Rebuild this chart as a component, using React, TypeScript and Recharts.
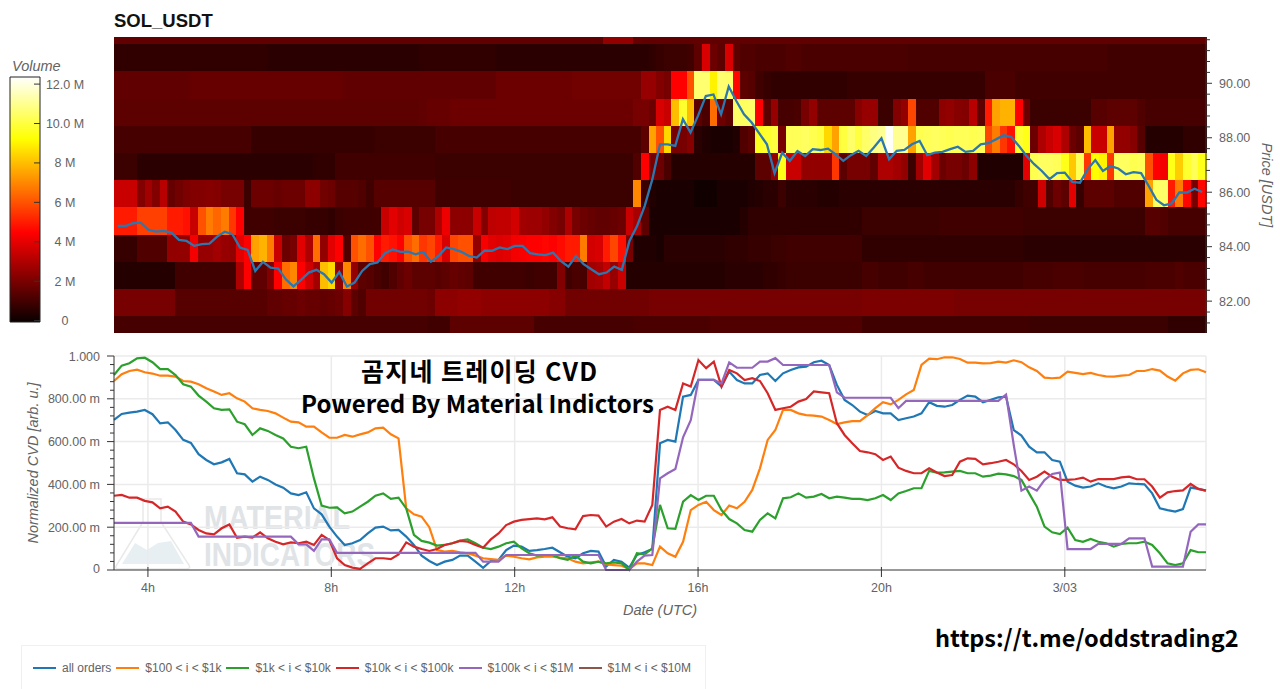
import React from "react";
import { ComposedChart, BarChart, Bar, Line, Cell, XAxis, YAxis, CartesianGrid, Legend } from "recharts";

// ---- Heatmap (volume in millions per 10-minute column, per 1 USD price bin) ----
const p81 = [
  1.1,1.1,1.1,1.1,1.1,1.1,1.1,1.1,1.1,1.1, 1.1,1.1,1.1,1.1,1.1,1.1,1.1,1.1,1.1,1.1,
  1.1,1.1,1.1,1.1,1.1,1.1,1.1,1.1,1.1,1.1, 1.1,1.1,1.1,1.1,1.1,1.1,1.1,1.1,1.1,1.1,
  1.1,1.0,1.0,1.0,1.5,1.5,1.5,1.5,1.5,1.5, 1.5,1.5,1.5,1.5,1.5,1.1,1.1,1.1,1.1,1.1,
  1.1,1.1,1.1,1.1,1.1,1.1,1.1,1.1,1.2,1.2, 1.2,1.2,1.2,1.2,1.2,1.2,1.2,1.2,1.3,1.3,
  1.3,1.3,1.3,1.3,1.3,1.3,1.3,1.3,1.3,1.3, 1.3,1.3,1.3,1.3,1.3,1.3,1.3,1.3,1.0,1.0,
  1.0,1.0,1.0,1.0,1.0,1.0,1.0,1.0,1.0,1.0, 1.0,1.0,1.0,1.0,1.0,1.0,1.0,1.0,1.0,1.0,
  0.9,0.9,0.9,0.9,0.9,0.9,0.9,0.9,0.9,0.9, 0.9,0.9,0.9,0.9,0.9,0.9,0.9,0.9,0.7,0.7,
  0.7,0.7,0.7,
];
const p82 = [
  2.0,2.0,2.0,2.0,2.0,2.0,2.0,2.0,1.4,1.4, 1.4,1.4,1.4,1.4,1.4,1.4,1.4,1.4,1.4,1.4,
  1.6,1.6,1.7,1.7,1.8,1.7,1.7,1.6,1.7,1.8, 2.3,1.5,1.3,1.9,1.9,1.9,1.9,1.9,1.9,1.9,
  1.9,1.8,2.4,2.4,2.4,2.5,2.5,2.5,2.4,2.4, 2.4,2.4,2.4,2.4,2.4,2.4,2.4,2.3,2.3,1.9,
  1.9,1.9,1.9,1.9,1.9,1.9,1.9,1.9,1.9,1.9, 2.0,2.0,2.0,2.0,2.0,2.0,2.0,2.0,2.0,2.0,
  2.0,2.0,2.0,2.0,2.0,2.0,2.0,2.0,2.0,2.0, 2.0,2.0,2.0,2.0,2.0,2.0,2.0,2.0,2.1,2.1,
  2.1,2.1,2.1,2.1,2.1,2.1,2.1,2.1,2.1,2.1, 2.0,2.0,2.0,2.0,2.0,2.0,2.0,2.0,2.0,2.0,
  2.0,2.0,2.0,2.0,2.0,2.0,2.0,2.0,2.0,2.0, 2.0,2.0,2.0,2.0,2.0,2.0,2.0,2.0,2.0,2.0,
  2.0,2.0,2.0,
];
const p83 = [
  0.5,0.5,0.5,0.5,0.5,0.5,0.5,0.5,1.0,1.0, 1.0,1.0,1.0,1.0,1.0,1.0,3.0,4.5,1.6,1.6,
  2.2,4.5,6.5,7.0,4.5,3.6,2.8,8.0,8.5,2.5, 7.0,2.5,1.5,1.4,1.2,1.0,1.3,1.6,1.8,1.5,
  1.5,1.5,1.4,1.5,1.7,1.6,1.5,1.0,1.0,1.0, 1.0,1.0,1.0,1.0,0.9,1.0,1.0,1.0,2.2,1.0,
  1.2,1.1,2.8,2.9,3.4,2.6,3.5,0.5,0.5,0.5, 0.5,0.5,0.5,0.5,0.5,0.5,0.5,0.5,0.5,0.5,
  0.6,0.6,0.6,0.6,0.6,0.7,0.7,0.8,0.9,0.9, 0.9,0.9,0.9,0.9,0.9,0.9,0.9,0.9,1.1,1.1,
  1.0,1.0,1.0,1.0,1.1,1.1,1.0,1.0,1.0,1.0, 1.0,1.0,1.0,1.0,1.0,1.0,1.0,1.0,1.0,1.1,
  1.1,1.1,1.1,1.2,1.2,1.2,1.2,1.1,1.1,1.1, 1.1,1.1,1.1,1.1,1.1,1.2,1.2,1.2,1.2,1.3,
  1.2,1.2,1.2,
];
const p84 = [
  0.8,0.8,0.8,1.3,1.3,1.3,1.3,2.5,2.5,2.5, 4.3,2.6,2.6,2.8,2.6,2.5,4.0,4.5,7.5,7.8,
  6.8,3.5,1.8,2.0,4.0,3.0,6.5,2.5,4.0,4.5, 1.3,6.0,6.5,6.0,4.5,5.0,4.8,4.5,6.0,6.5,
  5.5,5.8,5.0,3.8,5.8,6.0,6.0,2.5,4.4,4.0, 3.9,4.0,4.3,4.4,4.5,4.5,4.6,4.5,4.7,5.0,
  5.0,6.8,3.7,3.8,5.0,5.8,4.8,2.0,0.4,0.4, 0.4,0.3,0.6,0.6,0.6,0.6,0.6,0.6,0.6,0.6,
  0.7,0.7,0.7,0.8,0.8,0.8,0.9,0.9,1.0,1.0, 1.0,1.0,1.0,1.0,1.0,1.0,1.0,1.0,0.7,0.7,
  0.7,0.7,0.7,0.7,0.7,0.7,0.7,0.7,0.7,0.7, 0.7,0.7,0.7,0.7,0.7,0.7,0.7,0.7,0.7,0.6,
  0.6,0.6,0.6,0.6,0.6,0.6,0.6,0.6,0.6,0.6, 0.6,0.6,0.6,0.6,0.6,0.6,0.6,0.6,0.6,0.6,
  0.6,0.6,0.6,
];
const p85 = [
  5.0,5.0,5.0,5.7,5.7,5.7,5.7,5.0,5.0,4.8, 3.5,6.0,6.8,6.4,6.8,5.5,4.5,1.0,1.0,1.0,
  1.0,0.9,0.9,0.9,0.9,0.8,0.8,0.8,0.7,0.9, 1.0,1.0,1.0,1.0,1.0,3.5,4.0,3.6,3.8,1.5,
  2.0,2.0,3.0,4.2,2.4,2.4,2.4,3.5,2.2,3.3, 3.4,3.4,3.7,2.8,2.7,2.7,2.5,2.2,2.0,3.0,
  2.0,1.8,1.7,1.6,1.6,1.7,1.8,3.5,2.9,1.5, 0.3,0.3,0.3,0.3,0.3,0.3,0.3,0.3,0.3,0.3,
  0.3,0.3,0.5,0.7,0.7,0.7,0.7,0.7,0.7,0.7, 0.7,0.7,0.7,0.7,0.7,0.7,0.7,0.7,0.9,0.9,
  0.9,0.9,0.9,0.9,0.9,0.9,0.9,0.9,1.0,1.0, 1.0,1.0,1.0,1.0,1.0,1.0,1.0,1.0,1.0,0.9,
  0.9,0.9,0.9,0.9,0.9,0.9,0.9,0.9,0.9,0.9, 0.9,0.9,0.9,0.9,0.9,1.4,1.4,1.3,1.1,1.1,
  1.1,1.1,1.1,
];
const p86 = [
  3.5,3.5,3.5,2.2,2.8,2.2,3.2,1.7,1.9,2.1, 2.2,2.2,2.3,2.2,2.0,2.0,2.0,0.9,1.8,1.8,
  1.8,1.7,1.8,1.8,1.8,2.4,2.4,1.9,1.8,1.4, 1.4,1.4,1.3,1.0,1.4,1.4,1.4,1.4,1.4,1.4,
  1.4,1.4,1.0,1.0,1.0,1.0,1.0,1.0,1.0,1.0, 1.0,1.0,0.9,0.9,0.9,0.9,0.9,0.9,0.9,0.9,
  0.9,0.9,0.9,0.9,0.9,0.9,0.9,0.9,7.0,0.9, 0.4,0.3,0.3,0.3,0.3,0.3,0.1,0.1,0.1,0.3,
  0.3,0.3,0.3,0.4,0.5,0.6,0.6,0.9,0.6,0.6, 0.6,0.6,0.5,0.5,0.5,0.6,0.6,0.6,0.6,0.6,
  0.6,0.6,0.6,0.6,0.6,0.6,0.6,0.6,0.6,0.6, 0.6,0.6,0.6,0.6,0.6,0.6,0.6,0.6,0.8,1.0,
  1.0,3.6,1.3,1.8,1.5,4.0,0.8,1.5,1.5,1.5, 1.5,1.3,1.3,1.3,1.3,7.5,10.4,10.5,5.0,6.8,
  4.6,2.0,4.6,
];
const p87 = [
  0.9,0.9,0.9,0.6,0.6,0.6,0.6,0.6,0.6,0.6, 0.6,0.6,0.6,0.6,0.6,0.6,0.6,0.6,0.6,0.6,
  0.6,0.6,0.6,0.6,0.6,0.6,0.7,0.7,0.7,1.0, 1.0,1.0,1.0,1.0,1.0,1.0,1.0,1.0,1.0,1.0,
  1.0,1.0,0.9,0.9,0.9,0.9,0.9,0.9,0.9,0.9, 0.9,0.9,0.9,0.9,0.9,0.9,0.9,0.9,0.9,0.9,
  0.9,0.9,0.9,0.9,0.9,0.9,0.9,0.9,1.3,4.5, 2.0,1.8,1.2,0.5,0.5,0.5,0.5,0.5,0.5,0.5,
  0.5,0.5,0.5,0.5,1.5,1.5,2.5,9.5,3.5,3.5, 2.5,2.5,2.5,2.5,5.5,1.5,2.0,2.0,2.0,1.6,
  3.0,3.0,2.8,2.5,0.9,2.8,4.0,2.8,1.8,2.0, 2.0,1.8,2.4,0.4,0.4,0.4,0.4,0.4,0.4,4.0,
  10.2,10.4,10.4,10.3,9.5,8.2,10.3,5.5,9.2,9.0, 5.5,10.4,10.4,10.2,10.3,6.0,4.5,4.3,9.5,8.3,
  9.8,10.3,9.5,
];
const p88 = [
  1.1,1.1,1.1,1.1,1.1,1.1,1.1,1.1,1.1,1.1, 1.1,1.1,1.1,1.1,1.1,1.1,1.1,1.1,0.8,0.8,
  0.8,0.8,0.8,0.8,0.8,0.8,0.8,0.8,0.8,0.8, 0.8,0.8,0.8,0.8,0.9,0.9,0.9,0.9,0.9,0.9,
  0.9,0.9,1.1,1.1,1.1,1.1,1.1,1.1,1.1,1.1, 1.1,1.1,1.1,1.1,1.1,1.1,1.1,1.1,1.1,1.1,
  1.1,1.1,1.1,1.1,1.1,1.1,1.1,1.1,1.1,1.5, 7.5,6.0,8.5,2.0,2.0,2.3,0.6,0.4,0.3,0.3,
  0.3,0.4,1.3,1.5,9.6,9.8,10.0,2.0,10.3,10.3, 10.4,10.2,10.0,8.5,7.5,10.0,10.5,10.0,10.5,10.8,
  11.0,12.3,11.0,11.0,7.5,10.2,10.3,10.4,10.3,10.2, 10.3,10.3,10.2,10.3,5.8,6.8,5.5,4.8,9.8,9.5,
  1.8,3.0,3.5,3.8,3.0,1.8,1.5,8.0,3.5,3.5, 7.5,2.5,2.5,2.3,1.4,0.5,0.5,0.5,0.5,0.5,
  0.7,0.7,0.7,
];
const p89 = [
  1.5,1.5,1.5,1.5,1.5,1.5,1.5,1.5,1.5,1.5, 1.5,1.5,1.5,1.5,1.5,1.5,1.5,1.5,1.5,1.5,
  1.5,1.5,1.5,1.5,1.5,1.5,1.5,1.5,1.5,1.5, 1.5,1.5,1.5,1.5,1.5,1.5,1.5,1.5,1.5,1.5,
  1.6,1.7,1.7,1.7,1.8,1.8,1.8,1.8,1.8,1.8, 1.8,1.8,1.8,1.8,1.8,1.8,1.8,1.8,1.8,1.8,
  1.8,1.8,1.8,1.8,1.8,1.8,1.8,1.8,2.0,2.0, 1.8,3.8,3.5,8.0,9.8,8.0,1.5,1.2,6.5,1.8,
  1.5,10.5,10.4,10.5,4.5,1.5,2.6,1.1,1.1,1.2, 2.0,2.5,1.5,1.5,1.5,1.5,1.5,2.3,2.6,2.6,
  0.9,0.9,2.2,2.5,5.8,1.3,1.3,1.3,2.4,2.5, 2.3,2.2,3.2,1.5,5.0,7.5,7.8,7.8,4.5,1.8,
  0.9,0.9,0.9,0.9,0.9,0.9,0.9,0.9,1.4,1.4, 1.5,1.5,1.5,1.5,1.3,1.1,1.1,1.1,1.1,1.1,
  1.1,1.1,1.1,
];
const p90 = [
  1.6,1.6,1.6,1.6,1.6,1.6,1.6,1.6,1.6,1.6, 1.7,1.7,1.7,1.7,1.7,1.7,1.7,1.7,1.7,1.7,
  1.7,1.7,1.7,1.7,1.7,1.7,1.7,1.7,1.7,1.7, 1.6,1.6,1.6,1.6,1.6,1.6,1.6,1.6,1.6,1.6,
  1.6,1.6,1.6,1.6,1.6,1.6,1.6,1.6,1.6,1.6, 1.8,1.8,1.8,1.8,1.8,1.8,1.8,1.8,1.8,1.8,
  1.9,1.9,1.9,1.9,1.9,1.9,1.9,1.9,1.9,2.6, 2.6,2.2,2.0,4.5,4.5,6.0,10.6,10.6,9.0,10.6,
  10.5,4.6,1.5,1.4,1.0,0.8,0.7,0.7,0.7,0.7, 0.7,0.7,0.7,0.7,0.7,0.7,0.8,0.8,0.8,0.8,
  0.8,0.8,0.8,0.8,0.8,0.8,0.8,0.8,0.8,0.8, 0.8,0.8,0.8,0.8,1.2,1.2,1.2,1.2,1.0,1.0,
  1.0,1.0,1.0,1.0,1.0,1.0,1.0,1.0,1.0,1.0, 1.0,1.0,1.0,1.0,1.0,1.0,1.0,1.0,1.0,1.0,
  1.0,1.0,1.0,
];
const p91 = [
  0.7,0.7,0.7,0.7,0.7,0.7,0.7,0.7,0.7,0.7, 0.7,0.7,0.7,0.7,0.7,0.7,0.7,0.7,0.7,0.7,
  0.6,0.6,0.6,0.6,0.6,0.6,0.6,0.6,0.6,0.6, 0.6,0.6,0.6,0.6,0.6,0.6,0.6,0.6,0.6,0.6,
  0.7,0.7,0.7,0.7,0.7,0.7,0.7,0.7,0.7,0.7, 0.6,0.6,0.6,0.6,0.6,0.6,0.6,0.6,0.6,0.6,
  0.6,0.6,0.6,0.6,0.6,0.6,0.6,0.6,0.6,0.6, 0.7,0.8,0.9,0.9,0.9,1.0,1.5,3.8,1.8,1.5,
  3.8,1.5,1.3,1.3,1.2,1.2,1.2,1.2,1.3,1.3, 1.2,1.2,1.2,1.2,1.2,1.2,1.2,1.2,1.2,1.2,
  1.2,1.2,1.2,1.2,1.1,1.1,1.1,1.1,1.1,1.1, 1.1,1.1,1.1,1.1,1.1,1.1,1.1,1.1,1.1,1.1,
  1.1,1.1,1.1,1.1,1.1,1.1,1.1,1.1,1.1,1.1, 1.0,1.0,1.0,1.0,1.0,1.0,1.0,1.0,1.0,1.0,
  1.0,1.0,1.0,
];
const p92 = [
  1.6,1.6,1.6,1.6,1.6,1.6,1.6,1.6,1.6,1.6, 1.6,1.6,1.6,1.6,1.6,1.6,1.6,1.6,1.6,1.6,
  1.6,1.6,1.6,1.6,1.6,1.6,1.6,1.6,1.6,1.6, 1.6,1.6,1.6,1.6,1.6,1.6,1.6,1.6,1.6,1.6,
  1.6,1.6,1.6,1.6,1.6,1.6,1.6,1.6,1.6,1.6, 1.6,1.6,1.6,1.6,1.6,1.6,1.6,1.6,1.6,1.6,
  1.6,1.6,1.6,1.6,2.5,2.5,2.5,2.5,1.7,1.6, 1.6,1.6,1.6,1.6,1.6,1.6,1.6,1.6,1.6,1.6,
  1.6,1.6,1.6,1.6,1.6,1.6,1.6,1.6,1.6,1.6, 1.6,1.6,1.6,1.6,1.6,1.6,1.6,1.6,1.6,1.6,
  1.6,1.6,1.6,1.6,1.6,1.6,1.6,1.6,1.6,1.6, 1.6,1.6,1.6,1.6,1.6,1.6,1.6,1.6,1.6,1.6,
  1.6,1.6,1.6,1.6,1.6,1.6,1.6,1.6,1.6,1.6, 1.6,1.6,1.6,1.6,1.6,1.6,1.6,1.6,1.6,1.6,
  1.6,1.6,1.6,
];
const heatRows = [p81, p82, p83, p84, p85, p86, p87, p88, p89, p90, p91, p92];
// Height of every price bin in the stack; the first reaches up from zero to its upper edge.
const binHeights = [81.44, 1, 1, 1, 1, 1, 1, 1, 1, 1, 1, 1];

const price = [
  84.76,84.76,84.86,84.88,84.62,84.55,84.58,84.52,84.25,84.21,
  84.03,84.09,84.11,84.37,84.55,84.46,83.97,83.88,83.11,83.44,
  83.23,83.20,82.80,82.54,82.78,83.05,83.15,82.99,82.68,83.07,
  82.54,82.68,83.11,83.36,83.42,83.76,83.90,83.81,83.82,83.72,
  83.81,83.45,83.66,83.97,83.91,83.81,83.66,83.60,83.85,83.85,
  83.97,83.91,84.03,84.03,83.76,83.72,83.69,83.78,83.48,83.27,
  83.66,83.36,83.17,82.99,83.05,83.27,83.15,84.21,84.76,85.50,
  86.48,87.76,87.76,87.70,88.68,88.19,88.82,89.53,89.59,88.86,
  89.88,89.35,88.86,88.56,88.16,87.76,86.70,87.45,87.15,87.51,
  87.33,87.58,87.55,87.60,87.39,87.15,87.36,87.52,87.33,87.64,
  87.98,87.21,87.52,87.55,87.76,87.88,87.36,87.45,87.48,87.58,
  87.67,87.48,87.52,87.76,87.80,87.94,88.09,88.03,87.70,87.33,
  87.03,86.78,86.48,86.70,86.72,86.38,86.35,86.84,87.18,86.78,
  86.96,86.87,86.66,86.74,86.70,86.23,85.72,85.52,85.59,85.99,
  85.99,86.13,86.01,
];

// ---- CVD series (milli-units), one sample per step along the time axis ----
const allOrders = [
  701,729,735,740,748,728,685,690,654,608, 594,541,514,494,503,519,452,447,413,436,
  421,400,385,358,350,363,288,260,203,156, 117,125,140,171,198,203,185,187,156,117,
  67,42,23,39,47,67,67,39,10,42, 47,93,114,109,89,93,98,104,83,62,
  55,78,89,86,16,47,39,11,70,83, 98,592,608,600,810,818,888,888,888,857,
  927,888,872,872,911,919,883,919,935,947, 950,971,978,958,865,795,771,740,724,743,
  732,732,701,709,717,732,784,767,763,771, 795,815,810,784,795,807,810,654,628,576,
  550,550,514,506,413,394,385,390,405,390, 382,390,405,402,400,358,288,280,273,285,
  385,379,371,
];
const tier100to1k = [
  883,915,930,936,924,918,908,908,904,883, 880,868,849,834,818,826,802,787,756,748,
  743,732,712,693,690,670,670,643,618,618, 631,623,634,643,662,665,634,615,288,260,
  249,200,93,86,89,83,78,67,55,51, 47,67,62,55,50,59,62,62,58,55,
  39,31,36,39,26,23,20,5,31,31, 23,109,78,62,132,280,304,319,280,257,
  301,288,319,374,475,608,654,748,748,732, 724,721,717,701,682,690,696,696,724,756,
  784,774,795,821,841,958,988,985,994,994, 986,969,969,966,967,974,969,980,971,947,
  930,899,896,899,927,921,915,921,911,905, 904,908,911,930,930,939,932,904,885,919,
  935,938,924,
];
const tier1kto10k = [
  911,955,966,989,992,971,939,939,911,868, 857,815,787,756,748,751,693,681,631,662,
  650,631,615,576,569,576,428,301,291,293, 265,273,296,319,347,358,332,338,288,164,
  136,128,114,117,125,137,143,125,104,98, 109,125,132,101,78,67,70,70,55,47,
  67,39,31,39,31,36,31,0,78,73, 101,304,195,192,319,350,327,347,347,280,
  238,218,187,179,234,265,241,335,340,358, 338,343,355,335,343,338,332,332,327,335,
  350,327,358,369,382,382,463,455,456,460, 463,452,452,436,441,450,447,439,421,358,
  296,203,176,168,198,140,132,145,132,125, 109,122,125,125,132,117,78,31,23,31,
  93,83,83,
];
const tier10kto100k = [
  347,351,338,338,323,316,288,296,273,226, 213,187,171,167,195,213,151,156,151,176,
  148,132,120,129,125,132,117,164,140,55, 23,11,5,31,55,55,51,73,129,109,
  98,89,98,117,125,136,132,117,104,143, 171,210,226,234,238,241,237,246,203,195,
  190,252,257,254,203,226,238,218,231,226, 304,748,763,748,872,857,981,943,974,857,
  935,919,888,896,883,826,748,756,763,787, 799,834,830,826,686,631,592,556,550,541,
  514,530,478,463,452,452,475,456,439,444, 506,522,519,494,499,506,514,494,463,421,
  436,460,436,421,421,424,432,413,425,425, 425,433,436,424,424,390,338,363,369,372,
  402,379,371,
];
const tier100kto1M = [
  220,220,220,220,220,220,220,220,220,220, 220,156,156,156,156,156,156,156,156,156,
  156,156,156,156,120,120,89,143,143,80, 80,80,80,80,80,80,80,80,80,80,
  80,80,80,80,80,80,80,80,39,39, 39,70,70,70,70,70,70,70,70,70,
  70,70,70,70,0,0,0,0,39,67, 70,428,452,472,620,700,888,888,888,872,
  970,945,945,945,974,974,990,958,958,958, 958,958,958,958,830,805,805,805,805,805,
  805,805,756,790,790,790,790,790,790,790, 790,790,790,790,790,790,820,584,371,390,
  371,420,449,455,98,98,98,98,122,122, 122,122,148,148,148,16,16,16,16,16,
  179,213,213,
];
const tier1Mto10M: number[] = [];

const seriesNames = ["all orders", "$100 < i < $1k", "$1k < i < $10k", "$10k < i < $100k", "$100k < i < $1M", "$1M < i < $10M"];
const seriesColors = ["#1f77b4", "#ff7f0e", "#2ca02c", "#d62728", "#9467bd", "#8c564b"];
const seriesValues = [allOrders, tier100to1k, tier1kto10k, tier10kto100k, tier100kto1M, tier1Mto10M];

// ---- Axes ----
const priceTicks = [81.2,81.6,82,82.4,82.8,83.2,83.6,84,84.4,84.8,85.2,85.6,86,86.4,86.8,87.2,87.6,88,88.4,88.8,89.2,89.6,90,90.4,90.8,91.2,91.6];
const priceLabels: Record<number, string> = { 82: "82.00", 84: "84.00", 86: "86.00", 88: "88.00", 90: "90.00" };
const cvdTicks = [0,40,80,120,160,200,240,280,320,360,400,440,480,520,560,600,640,680,720,760,800,840,880,920,960,1000];
const cvdLabels: Record<number, string> = { 0: "0", 200: "200.00 m", 400: "400.00 m", 600: "600.00 m", 800: "800.00 m", 1000: "1.000" };
const hourTicks = [4, 8, 12, 16, 20, 24];
const hourLabels: Record<number, string> = { 4: "4h", 8: "8h", 12: "12h", 16: "16h", 20: "20h", 24: "3/03" };
const volumeTicks = [0, 2, 4, 6, 8, 10, 12];
const volumeLabels: Record<number, string> = { 0: "0", 2: "2 M", 4: "4 M", 6: "6 M", 8: "8 M", 10: "10.0 M", 12: "12.0 M" };
const colorStops: [number, string][] = [
  [0, "#0a0000"], [0.365, "#ff0000"], [0.746, "#ffff00"], [1, "#ffffff"],
];
const VOLUME_MIN = -0.07;
const VOLUME_MAX = 12.36;
const START_HOUR = 3.26;
const END_HOUR = 27.08;

const FONT = '"Liberation Sans", Arial, sans-serif';
const INK = "#636363";
const CJK = '"Noto Sans CJK KR", "Noto Sans", sans-serif';

function hot(v: number): string {
  const t = Math.max(0, Math.min(1, v / VOLUME_MAX));
  const r = t < 0.365 ? 0.04 + (0.96 * t) / 0.365 : 1;
  const g = t < 0.365 ? 0 : t < 0.746 ? (t - 0.365) / 0.381 : 1;
  const b = t < 0.746 ? 0 : (t - 0.746) / 0.254;
  return `rgb(${Math.round(r * 255)},${Math.round(g * 255)},${Math.round(b * 255)})`;
}

const heatData = price.map((p, i) => {
  const row: Record<string, number> = { col: i, price: p };
  binHeights.forEach((h, k) => {
    row[`b${k}`] = h;
  });
  return row;
});

const cvdData = allOrders.map((_, i) => {
  const row: Record<string, number> = { hour: START_HOUR + (i * (END_HOUR - START_HOUR)) / (allOrders.length - 1) };
  seriesValues.forEach((vals, k) => {
    if (vals[i] !== undefined) row[`s${k}`] = vals[i];
  });
  return row;
});

const HeatCell = (p: any) => (
  <rect x={p.x} y={p.y} width={p.width + 1} height={p.height} fill={p.fill} shapeRendering="crispEdges" />
);

const PriceTick = (p: any) => {
  const v = p.payload.value;
  const label = priceLabels[v];
  return (
    <g>
      <line x1={p.x} x2={p.x + (label ? 6 : 4)} y1={p.y} y2={p.y} stroke="#333" strokeWidth={1} />
      {label && (
        <text x={p.x + 13} y={p.y + 4.5} fontSize={12.5} fontFamily={FONT} fill={INK}>
          {label}
        </text>
      )}
    </g>
  );
};

const CvdTick = (p: any) => {
  const v = p.payload.value;
  const label = cvdLabels[v];
  return (
    <g>
      <line x1={p.x} x2={p.x - (label ? 7 : 4)} y1={p.y} y2={p.y} stroke="#333" strokeWidth={1} />
      {label && (
        <text x={p.x - 14} y={p.y + (v === 0 ? 2.5 : 4.5)} fontSize={12.5} fontFamily={FONT} fill={INK} textAnchor="end">
          {label}
        </text>
      )}
    </g>
  );
};

const HourTick = (p: any) => {
  const v = p.payload.value;
  return (
    <g>
      <line x1={p.x} x2={p.x} y1={p.y - 3} y2={p.y + 7} stroke="#333" strokeWidth={1} />
      <text x={p.x} y={p.y + 22} fontSize={12.5} fontFamily={FONT} fill={INK} textAnchor="middle">
        {hourLabels[v]}
      </text>
    </g>
  );
};

const VolumeTick = (p: any) => {
  const v = p.payload.value;
  return (
    <g>
      <line x1={p.x} x2={p.x - 6} y1={p.y} y2={p.y} stroke="#333" strokeWidth={1} />
      <text x={p.x + 25} y={p.y + 4.5} fontSize={12.5} fontFamily={FONT} fill={INK} textAnchor="middle">
        {volumeLabels[v]}
      </text>
    </g>
  );
};

const LegendBox = ({ payload }: any) => {
  const items = [...(payload || [])].sort((a: any, b: any) => seriesNames.indexOf(a.value) - seriesNames.indexOf(b.value));
  return (
    <div
      style={{
        boxSizing: "border-box",
        width: 685,
        height: 44,
        border: "1px solid #f0f0f0",
        borderBottom: "none",
        display: "flex",
        alignItems: "center",
        paddingLeft: 11,
        fontFamily: FONT,
        fontSize: 12,
        color: INK,
        whiteSpace: "pre",
      }}
    >
      {items.map((e: any) => (
        <span key={e.value} style={{ display: "flex", alignItems: "center", marginRight: 5 }}>
          <span style={{ display: "inline-block", width: 23, height: 2, background: e.color, marginRight: 6 }} />
          {e.value}
        </span>
      ))}
    </div>
  );
};

const Watermark = () => (
  <svg width={1280} height={689} style={{ position: "absolute", left: 0, top: 0 }}>
    <path
      d="M143 499 L143 522 L116 566 Q115 569 119 569 L186 569 Q191 569 189 565 L161 522 L161 499 Z"
      fill="none"
      stroke="#e9e9e9"
      strokeWidth={1.5}
    />
    <path d="M122 564 L135 543 L147 550 L158 543 L171 541 L184 564 Z" fill="#e8eff2" />
    <g fontFamily={FONT} fontWeight="bold" fill="#e0e4e7">
      <text x={204} y={529} fontSize={33} textLength={146} lengthAdjust="spacingAndGlyphs">
        MATERIAL
      </text>
      <text x={204} y={566} fontSize={33} textLength={171} lengthAdjust="spacingAndGlyphs">
        INDICATORS
      </text>
    </g>
  </svg>
);

const overlayText: React.CSSProperties = {
  position: "absolute",
  fontFamily: CJK,
  fontWeight: 700,
  color: "#000",
  whiteSpace: "pre",
  lineHeight: 1,
};

export default function App() {
  return (
    <div style={{ position: "absolute", left: 0, top: 0, width: 1280, height: 689, overflow: "hidden", background: "#fff" }}>
      <Watermark />

      <div style={{ position: "absolute", left: 114, top: 10, fontFamily: FONT, fontWeight: 700, fontSize: 18.5, color: "#111" }}>
        SOL_USDT
      </div>
      <div style={{ position: "absolute", left: 12, top: 58, fontFamily: FONT, fontStyle: "italic", fontSize: 14.5, color: INK }}>
        Volume
      </div>

      <div style={{ position: "absolute", left: 0, top: 60 }}>
        <BarChart
          width={110}
          height={270}
          data={[{ name: "Volume", range: [VOLUME_MIN, VOLUME_MAX] }]}
          margin={{ left: 10, right: 0, top: 17, bottom: 8 }}
          barCategoryGap={0}
        >
          <defs>
            <linearGradient id="hotScale" x1="0" y1="1" x2="0" y2="0">
              {colorStops.map(([o, c]) => (
                <stop key={o} offset={o} stopColor={c} />
              ))}
            </linearGradient>
          </defs>
          <XAxis dataKey="name" hide />
          <YAxis
            orientation="right"
            width={70}
            domain={[VOLUME_MIN, VOLUME_MAX]}
            ticks={volumeTicks}
            interval={0}
            axisLine={false}
            tickLine={false}
            tickSize={0}
            tickMargin={0}
            tick={VolumeTick}
          />
          <Bar dataKey="range" fill="url(#hotScale)" stroke="#222" strokeWidth={1} isAnimationActive={false} />
        </BarChart>
      </div>

      <div style={{ position: "absolute", left: 0, top: 0 }}>
        <ComposedChart
          width={1280}
          height={340}
          data={heatData}
          margin={{ left: 114, right: 0, top: 37, bottom: 7 }}
          barCategoryGap={0}
          barGap={0}
        >
          <XAxis dataKey="col" type="category" hide />
          <YAxis
            orientation="right"
            width={74}
            domain={[80.83, 91.7]}
            allowDataOverflow
            ticks={priceTicks}
            interval={0}
            tickLine={false}
            tickSize={0}
            tickMargin={0}
            axisLine={{ stroke: "#333" }}
            tick={PriceTick}
            label={{
              value: "Price [USDT]",
              angle: 90,
              position: "center",
              dx: 24,
              style: { fontFamily: FONT, fontStyle: "italic", fontSize: 14.5, fill: INK },
            }}
          />
          {heatRows.map((vals, k) => (
            <Bar key={k} dataKey={`b${k}`} stackId="heat" shape={HeatCell} isAnimationActive={false}>
              {vals.map((v, i) => (
                <Cell key={i} fill={hot(v)} />
              ))}
            </Bar>
          ))}
          <Line dataKey="price" type="linear" stroke="#2b78b0" strokeWidth={2.3} dot={false} isAnimationActive={false} />
        </ComposedChart>
      </div>

      <div style={{ position: "absolute", left: 0, top: 340 }}>
        <ComposedChart width={1280} height={349} data={cvdData} margin={{ left: 0, right: 74, top: 16, bottom: 35 }}>
          <CartesianGrid
            stroke="#ebebeb"
            strokeWidth={1.5}
            horizontalValues={[200, 400, 600, 800, 1000]}
            verticalValues={[4, 8, 12, 16, 20, 24, END_HOUR]}
          />
          <XAxis
            dataKey="hour"
            type="number"
            domain={[START_HOUR, END_HOUR]}
            ticks={hourTicks}
            interval={0}
            height={40}
            tickLine={false}
            tickSize={0}
            tickMargin={0}
            axisLine={{ stroke: "#333" }}
            tick={HourTick}
            label={{
              value: "Date (UTC)",
              position: "center",
              dy: 20,
              style: { fontFamily: FONT, fontStyle: "italic", fontSize: 14.5, fill: INK },
            }}
          />
          <YAxis
            width={114}
            domain={[0, 1000]}
            ticks={cvdTicks}
            interval={0}
            tickLine={false}
            tickSize={0}
            tickMargin={0}
            axisLine={{ stroke: "#333" }}
            tick={CvdTick}
            label={{
              value: "Normalized CVD [arb. u.]",
              angle: -90,
              position: "center",
              dx: -24,
              style: { fontFamily: FONT, fontStyle: "italic", fontSize: 14.5, fill: INK },
            }}
          />
          {seriesNames.map((name, k) => (
            <Line
              key={name}
              name={name}
              dataKey={`s${k}`}
              type="linear"
              stroke={seriesColors[k]}
              strokeWidth={2.2}
              dot={false}
              isAnimationActive={false}
            />
          ))}
          <Legend content={LegendBox} wrapperStyle={{ left: 21, bottom: 0, width: 685, height: 44 }} />
        </ComposedChart>
      </div>

      <div style={{ ...overlayText, left: 361, top: 358, fontSize: 25, letterSpacing: 1.3 }}>곰지네 트레이딩 CVD</div>
      <div style={{ ...overlayText, left: 301, top: 391, fontSize: 24 }}>Powered By Material Indictors</div>
      <div style={{ ...overlayText, left: 935, top: 626, fontSize: 23.5 }}>https://t.me/oddstrading2</div>
    </div>
  );
}
